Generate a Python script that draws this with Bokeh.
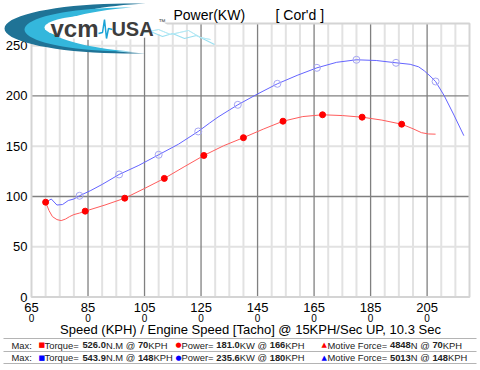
import math
from bokeh.plotting import figure
from bokeh.models import Range1d, Label, PolyAnnotation
from bokeh.core.properties import value
from bokeh.embed import file_html
from bokeh.resources import INLINE

# ---------------- data ----------------
x_ticks = [65, 85, 105, 125, 145, 165, 185, 205]
x_tick_labels = ["65", "85", "105", "125", "145", "165", "185", "205"]
engine_tick_labels = ["0", "0", "0", "0", "0", "0", "0", "0"]
x_minor = [70, 75, 80, 90, 95, 100, 110, 115, 120, 130, 135, 140, 150, 155, 160,
           170, 175, 180, 190, 195, 200, 210, 215]
y_ticks = [0, 50, 100, 150, 200, 250]
y_tick_labels = ["0", "50", "100", "150", "200", "250"]
y_dark = [100, 200]
y_light = [50, 150, 250]
X_MIN, X_MAX, Y_MIN, Y_MAX = 65, 220, 0, 272.1

# run 1 (red): power curve and its markers
red_speed = [70, 71.2, 72.4, 74, 75.5, 77, 78.5, 80, 82, 84, 91, 98, 105, 112, 119, 126,
             133, 140, 147, 154, 161, 168, 175, 182, 189, 196, 200, 203, 205.5, 208]
red_power = [94.3, 86, 80, 77, 76, 77.5, 80, 82, 83.5, 85.4, 91.5, 98.3, 108, 118, 129.5,
             140.8, 150.5, 158.5, 167, 174.9, 179.5, 181.3, 180.5, 178.9, 176, 171.9, 167.4,
             163.5, 162.2, 162]
red_mk_speed = [70, 84, 98, 112, 126, 140, 154, 168, 182, 196]
red_mk_power = [94.3, 85.4, 98.3, 118, 140.8, 158.5, 174.9, 181.3, 178.9, 171.9]

# run 2 (blue): power curve and its markers
blue_speed = [70, 72, 74, 76, 78, 80, 82, 86, 90, 96, 103, 110, 117, 124, 128, 131, 135,
              138, 145, 152, 159, 166, 173, 180, 187, 194, 199, 202, 204, 206, 208, 211,
              214.5, 218]
blue_power = [94, 97.5, 91.5, 92, 96, 97.5, 100.7, 106, 112, 121.9, 131, 141.5, 152,
              164.7, 173, 179, 186, 191.2, 202, 212.1, 220.5, 228, 233.5, 236, 235.3,
              233, 231.5, 229, 225, 220, 214.4, 200.5, 181, 160.5]
blue_mk_speed = [82, 96, 110, 124, 138, 152, 166, 180, 194, 208]
blue_mk_power = [100.7, 121.9, 141.5, 164.7, 191.2, 212.1, 228, 236, 233, 214.4]

# summary table
row_colors = ["#ff0000", "#0000ff"]
torque_max = ["526.0", "543.9"]
torque_at = ["70", "148"]
power_max = ["181.0", "235.6"]
power_at = ["166", "180"]
force_max = ["4848", "5013"]
force_at = ["70", "148"]

title_left = "Power(KW)"
title_right = "[ Cor'd ]"
x_title = "Speed (KPH) / Engine Speed [Tacho] @ 15KPH/Sec UP, 10.3 Sec"

# ---------------- layout geometry (picture pixels) ----------------
W, H = 480, 370
PL, PR, PT, PB = 31, 469, 23, 296.5  # plot area
KX = (PR - PL) / (X_MAX - X_MIN)
KY = (PB - PT) / (Y_MAX - Y_MIN)
x_range = Range1d(X_MIN - PL / KX, X_MAX + (W - PR) / KX)
y_range = Range1d(Y_MIN - (H - PB) / KY, Y_MAX + PT / KY)

FONT = "Liberation Sans"
p = figure(width=W, height=H, output_backend="svg", toolbar_location=None,
           x_range=x_range, y_range=y_range, x_axis_type=None, y_axis_type=None,
           min_border=0, outline_line_color=None,
           background_fill_color="white", border_fill_color="white")
p.xgrid.visible = False
p.ygrid.visible = False

# grid
p.segment(x0=x_minor, y0=Y_MIN, x1=x_minor, y1=Y_MAX, line_color="#e2e2e2", line_width=2)
p.segment(x0=X_MIN, y0=y_light, x1=X_MAX, y1=y_light, line_color="#e2e2e2", line_width=2)
p.segment(x0=x_ticks[1:], y0=Y_MIN, x1=x_ticks[1:], y1=Y_MAX, line_color="#808080",
          line_width=1.3)
p.segment(x0=X_MIN, y0=y_dark, x1=X_MAX, y1=y_dark, line_color="#808080", line_width=1.3)
p.quad(left=X_MIN, right=X_MAX, bottom=Y_MIN, top=Y_MAX, fill_color=None,
       line_color="#d4d4d4", line_width=2)

# tick labels
p.text(x=X_MIN, y=y_ticks, text=y_tick_labels, x_offset=-4, text_align="right",
       text_baseline="middle", text_font=value(FONT), text_font_size="13px",
       text_color="black")
p.text(x=x_ticks, y=Y_MIN, text=x_tick_labels, y_offset=10.5, text_align="center",
       text_baseline="middle", text_font=value(FONT), text_font_size="13px",
       text_color="black")
p.text(x=x_ticks, y=Y_MIN, text=engine_tick_labels, y_offset=21, text_align="center",
       text_baseline="middle", text_font=value(FONT), text_font_size="10px",
       text_color="black")

# curves
p.line(red_speed, red_power, line_color="#ff5c5c", line_width=1)
p.line(blue_speed, blue_power, line_color="#6464ff", line_width=1)
p.scatter(blue_mk_speed, blue_mk_power, marker="circle", size=7, fill_color=None,
          line_color="#a6a6f2", line_width=1)
p.scatter(red_mk_speed, red_mk_power, marker="circle", size=6, fill_color="#ff0000",
          line_color="#ff0000")


# ---------------- annotations (screen units, picture pixel helpers) ----------------
def sx(ix):
    return ix


def sy(iy):
    return H - iy


def lab(text, ix, iy, size, color="black", style="normal", align="left", font=FONT):
    p.add_layout(Label(x=sx(ix), y=sy(iy), x_units="screen", y_units="screen", text=text,
                       text_font=font, text_font_size=f"{size}px", text_color=color,
                       text_font_style=style, text_align=align, text_baseline="middle"))


def poly(pts, fill, line=None, alpha=1.0, lw=1):
    p.add_layout(PolyAnnotation(xs=[sx(a) for a, b in pts], ys=[sy(b) for a, b in pts],
                                xs_units="screen", ys_units="screen",
                                fill_color=fill, fill_alpha=alpha,
                                line_color=line, line_alpha=alpha, line_width=lw))


def crescent(cx, cy, rx, ry, t0, t1, w, n=40):
    outer, inner = [], []
    for i in range(n + 1):
        t = math.radians(t0 + (t1 - t0) * i / n)
        x = cx + rx * math.cos(t)
        y = cy - ry * math.sin(t)
        k = math.sin(math.pi * i / n)
        outer.append((x, y))
        inner.append((x + w * k, y + (cy - y) * 0.25 * k))
    return outer + inner[::-1]


def ellipse(cx, cy, rx, ry, n=48):
    return [(cx + rx * math.cos(2 * math.pi * i / n), cy - ry * math.sin(2 * math.pi * i / n))
            for i in range(n)]


def stroke(pts):
    return pts + pts[::-1]


# logo
poly(crescent(128, 28, 124, 25, 82, 278, 40), "#1f7396")
poly(crescent(128, 29, 104, 22, 88, 272, 26), "#34b7dc")
poly(ellipse(106, 27, 62, 13), "white")
poly(stroke([(150, 31), (162, 36), (172, 33), (184, 38), (196, 35), (206, 40), (214, 44)]),
     None, "#8fdcee", 0.9, 1.2)
poly(stroke([(140, 33), (158, 29), (170, 34), (188, 30), (200, 37), (210, 39)]),
     None, "#b5e9f4", 0.9, 1)
lab("vcm", 74, 28, 24, "#3d3d3d", "bold", "center")
lab("USA", 132, 28, 20, "#3d3d3d", "bold", "center")
lab("\u2122", 158, 21, 7, "#3d3d3d")
poly(stroke([(98, 33), (102, 32), (104, 19), (106, 38), (108, 28), (112, 29)]),
     None, "#1aa3d6", 1, 1.5)

# titles
lab(title_left, 173, 14, 14)
lab(title_right, 275, 14, 14)
lab(x_title, (PL + PR) / 2, 329, 13, align="center")

# summary table
W_REG = {"T": 611, "o": 556, "r": 333, "q": 556, "u": 556, "e": 556, "=": 584, " ": 278,
         "N": 722, ".": 278, "M": 833, "@": 1015, "K": 667, "P": 667, "H": 722, "w": 722,
         "W": 944, "i": 222, "t": 278, "v": 500, "F": 611, "c": 500, "a": 556, "x": 500,
         ":": 278}
TS = 9.4


def width(s):
    return sum((556 if ch.isdigit() else W_REG.get(ch, 556)) for ch in s) * TS / 1000.0


for ly in [338, 351, 363]:
    poly([(3, ly - 0.5), (476, ly - 0.5), (476, ly + 0.5), (3, ly + 0.5)], "#b4b4b4")

row_y = [344.5, 357]
for r in range(2):
    y = row_y[r]
    c = row_colors[r]
    lab("Max:", 11, y, TS, "#222222")
    cols = [(38, "\u25a0", ["Torque= ", torque_max[r], "N.M @ ", torque_at[r], "KPH"]),
            (175, "\u25cf", ["Power= ", power_max[r], "KW @ ", power_at[r], "KPH"]),
            (321, "\u25b2", ["Motive Force= ", force_max[r], "N @ ", force_at[r], "KPH"])]
    for x0, mk, parts in cols:
        lab(mk, x0, y, 7, c, font="DejaVu Sans")
        x = x0 + 6
        for i, part in enumerate(parts):
            lab(part, x, y, TS, "#222222", "bold" if i in (1, 3) else "normal")
            x += width(part)

open("out.html", "w").write(file_html(p, INLINE))
